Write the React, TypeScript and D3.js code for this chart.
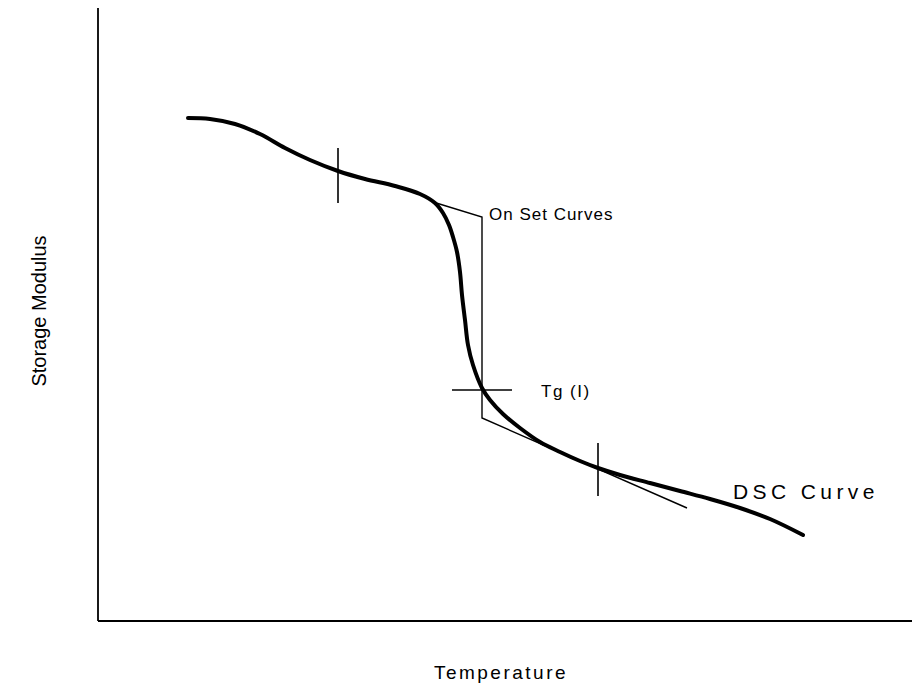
import React from "react";
import * as d3 from "d3";

const dscTemp = [90, 112, 137, 162, 187, 212, 240, 267, 297, 322, 337, 345, 351, 355, 359, 362, 364, 367, 370, 375, 384, 392, 405, 422, 442, 462, 482, 500, 522, 552, 582, 612, 642, 672, 705];
const dscModulus = [503, 502, 497, 487, 473, 461, 450, 442, 435, 427, 418, 408, 396, 384, 369, 349, 326, 301, 276, 256, 233, 221, 207, 193, 179, 169, 160, 153, 146, 138, 130, 122, 113, 102, 86];

// onset tangent construction
const onsetTemp = [335, 384, 384, 589];
const onsetModulus = [419, 404, 203, 113];

// Tg (I) cross and the two markers on the curve
const tgTemp = [354, 414];
const tgModulus = 231;
const markerTemp = [240, 500];
const markerModulus = [[473, 418], [178, 125]];

const width = 912;
const height = 690;
const margin = { top: 8, right: 0, bottom: 69, left: 98 };

export default function App() {
  const x = d3.scaleLinear().domain([0, 814]).range([margin.left, width - margin.right]);
  const y = d3.scaleLinear().domain([0, 613]).range([height - margin.bottom, margin.top]);

  const curve = d3.line<number>()
    .x((d, i) => x(dscTemp[i]))
    .y((d) => y(d))
    .curve(d3.curveCatmullRom.alpha(0.5));

  const onset = d3.line<number>()
    .x((d, i) => x(onsetTemp[i]))
    .y((d) => y(d));

  const font = "'Liberation Sans', Arial, sans-serif";

  return (
    <svg width={width} height={height} style={{ position: "absolute", left: 0, top: 0, background: "#fff" }}>
      {/* axes */}
      <line x1={x(0)} x2={x(0)} y1={y(613)} y2={y(0)} stroke="#000" strokeWidth={1.8} />
      <line x1={x(0)} x2={x(814)} y1={y(0)} y2={y(0)} stroke="#000" strokeWidth={1.8} />

      <path d={onset(onsetModulus) || ""} fill="none" stroke="#000" strokeWidth={1.4} />
      <path d={curve(dscModulus) || ""} fill="none" stroke="#000" strokeWidth={4} strokeLinecap="round" />

      <line x1={x(tgTemp[0])} x2={x(tgTemp[1])} y1={y(tgModulus)} y2={y(tgModulus)} stroke="#000" strokeWidth={1.6} />
      {markerTemp.map((t, i) => (
        <line key={i} x1={x(t)} x2={x(t)} y1={y(markerModulus[i][0])} y2={y(markerModulus[i][1])} stroke="#000" strokeWidth={1.6} />
      ))}

      <g fontFamily={font} fill="#000">
        <text x={489} y={220} fontSize={17} letterSpacing={1}>On Set Curves</text>
        <text x={541} y={397} fontSize={17} letterSpacing={1.5}>Tg (I)</text>
        <text x={733} y={499} fontSize={21} letterSpacing={4.4}>DSC Curve</text>
        <text x={501} y={679} fontSize={19} letterSpacing={2.5} textAnchor="middle">Temperature</text>
        <text transform="translate(46,311) rotate(-90)" fontSize={20} textAnchor="middle">Storage Modulus</text>
      </g>
    </svg>
  );
}
